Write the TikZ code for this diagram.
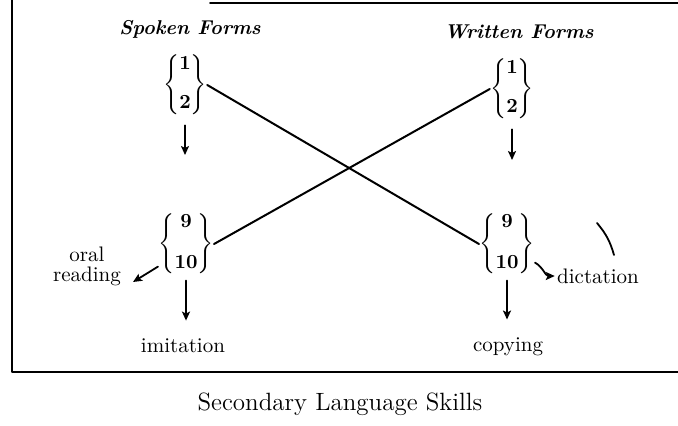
\documentclass[tikz,border=0pt]{standalone}
\usetikzlibrary{positioning,arrows.meta}
\begin{document}
\begin{tikzpicture}[line cap=round, line join=round, x=0.5pt, y=-0.5pt,
        grp/.style={inner sep=0pt},
        head/.style={font=\bfseries\itshape, inner sep=1pt},
        lbl/.style={font=\fontsize{10.5}{10}\selectfont, inner sep=1pt},
        link/.style={line width=1pt},
        arr/.style={line width=0.9pt, -{Stealth[length=4.5pt, width=4pt, inset=1pt]}}]

    \useasboundingbox (0,0) rectangle (678,425);

    % frame
    \draw[line width=1.4pt] (12,0) -- (12,372) -- (678,372);
    \draw[line width=1pt] (210,3) -- (678,3);
    \draw[line width=0.9pt] (597,223) to[bend left=12] (614,255);

    \node[head] (spoken) at (190,29) {Spoken Forms};
    \node[head] (written) at (519,32) {Written Forms};

    \renewcommand{\arraystretch}{0.8}
    \node[grp] (sp12) at (185,85) {$\left\{\begin{array}{@{}c@{}}\mathbf{1}\\[10pt]\mathbf{2}\end{array}\right\}$};
    \node[grp] (wr12) at (512,89) {$\left\{\begin{array}{@{}c@{}}\mathbf{1}\\[10pt]\mathbf{2}\end{array}\right\}$};
    \node[grp] (sp910) at (186,244) {$\left\{\begin{array}{@{}c@{}}\mathbf{9}\\[11pt]\mathbf{10}\end{array}\right\}$};
    \node[grp] (wr910) at (507,244) {$\left\{\begin{array}{@{}c@{}}\mathbf{9}\\[11pt]\mathbf{10}\end{array}\right\}$};

    \draw[link] (sp12.east) -- (wr910.west);
    \draw[link] (wr12.west) -- (sp910.east);

    \coordinate (spend) at (185,155);
    \coordinate (wrend) at (510,160);
    \draw[arr, shorten <=5pt] (sp12.south) -- (sp12.south |- spend);
    \draw[arr, shorten <=5pt] (wr12.south) -- (wr12.south |- wrend);

    \node[lbl] (imit) at (183,346) {imitation};
    \node[lbl] (copy) at (508,347) {copying};
    \draw[arr, shorten <=3pt, shorten >=8pt] (sp910.south) -- (sp910.south |- imit.north);
    \draw[arr, shorten <=3pt, shorten >=8pt] (wr910.south) -- (wr910.south |- copy.north);

    \node[lbl, align=center] (oral) at (87,266) {oral\\reading};
    \coordinate (oraltip) at (133,282);
    \draw[arr] ([yshift=4pt]sp910.south west) -- (oraltip);

    \node[lbl] (dict) at (598,276) {dictation};
    \draw[arr] ([yshift=6pt]wr910.south east) to[out=-30, in=180] (dict.west);

    \node[font=\fontsize{12.5}{14}\selectfont] (title) at (340,404) {Secondary Language Skills};
\end{tikzpicture}
\end{document}
